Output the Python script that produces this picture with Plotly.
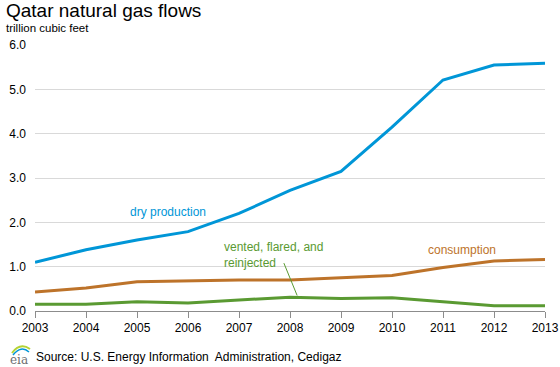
import plotly.graph_objects as go

years = list(range(2003, 2014))
dry_production = [1.10, 1.38, 1.60, 1.79, 2.20, 2.72, 3.15, 4.15, 5.21, 5.55, 5.59]
consumption = [0.43, 0.52, 0.66, 0.68, 0.70, 0.70, 0.75, 0.80, 0.98, 1.13, 1.16]
vented = [0.15, 0.15, 0.21, 0.18, 0.25, 0.31, 0.28, 0.30, 0.21, 0.12, 0.12]
y_ticks = [0, 1, 2, 3, 4, 5, 6]
y_tick_labels = ["0.0", "1.0", "2.0", "3.0", "4.0", "5.0", "6.0"]

BLUE = "#0096d7"
ORANGE = "#bd732a"
GREEN = "#5a9a32"
FONT = "Liberation Sans, Arial, sans-serif"

fig = go.Figure()
fig.add_trace(go.Scatter(x=years, y=vented, mode="lines", line=dict(color=GREEN, width=3)))
fig.add_trace(go.Scatter(x=years, y=consumption, mode="lines", line=dict(color=ORANGE, width=3)))
fig.add_trace(go.Scatter(x=years, y=dry_production, mode="lines", line=dict(color=BLUE, width=3)))

fig.update_layout(
    width=560, height=367,
    margin=dict(l=35, r=15, t=45, b=56, autoexpand=False),
    paper_bgcolor="white", plot_bgcolor="white",
    showlegend=False,
    font=dict(family=FONT, size=12, color="#000000"),
    xaxis=dict(range=[2003, 2013], tickmode="array", tickvals=years,
               ticktext=[str(y) for y in years], showgrid=False, automargin=False,
               showline=True, linecolor="#8c8c8c", linewidth=1,
               ticks="outside", ticklen=6, tickcolor="#8c8c8c",
               tickfont=dict(size=12, color="#000"), zeroline=False, fixedrange=True),
    yaxis=dict(range=[0, 6], tickmode="array", tickvals=y_ticks, ticktext=y_tick_labels,
               showgrid=True, gridcolor="#d9d9d9", gridwidth=1, zeroline=False,
               showline=False, ticks="", tickfont=dict(size=12, color="#000"),
               automargin=False, ticklabelstandoff=8, fixedrange=True),
)

fig.add_annotation(text="Qatar natural gas flows", xref="paper", yref="paper",
                   x=-31/510, y=1 + 34/266, xanchor="left", yanchor="middle",
                   showarrow=False, font=dict(size=19, family=FONT, color="#000"))
fig.add_annotation(text="trillion cubic feet", xref="paper", yref="paper",
                   x=-31/510, y=1 + 17/266, xanchor="left", yanchor="middle",
                   showarrow=False, font=dict(size=11.5, family=FONT, color="#000"))

fig.add_annotation(text="dry production", x=2005.6, y=2.23, xref="x", yref="y",
                   showarrow=False, font=dict(size=12, color=BLUE, family=FONT))
fig.add_annotation(text="consumption", x=2011.37, y=1.38, xref="x", yref="y",
                   showarrow=False, font=dict(size=12, color=ORANGE, family=FONT))
fig.add_annotation(text="vented, flared, and<br>reinjected", x=2006.66, y=1.26,
                   xref="x", yref="y", xanchor="left", yanchor="middle", align="left",
                   showarrow=False, font=dict(size=12, color=GREEN, family=FONT))
fig.add_shape(type="line", x0=2007.88, y0=1.08, x1=2008.14, y1=0.35, xref="x", yref="y",
              line=dict(color=GREEN, width=1))

fig.add_annotation(text="Source: U.S. Energy Information  Administration, Cedigaz",
                   xref="paper", yref="paper", x=-1/510, y=-46/266,
                   xanchor="left", yanchor="middle", showarrow=False,
                   font=dict(size=12, family=FONT, color="#000"))
fig.add_annotation(text="eia", xref="paper", yref="paper", x=-27/510, y=-49/266,
                   xanchor="left", yanchor="middle", showarrow=False,
                   font=dict(size=12, family="DejaVu Serif, serif", color="#6d6e71"))
fig.add_shape(type="path", xref="paper", yref="paper",
              path=f"M {-23/510} {-42/266} Q {-15/510} {-31/266} {-5/510} {-38/266}",
              line=dict(color="#b5d334", width=2))
fig.add_shape(type="path", xref="paper", yref="paper",
              path=f"M {-22/510} {-44/266} Q {-14/510} {-34/266} {-6/510} {-41/266}",
              line=dict(color="#0096d7", width=1.5))

fig.write_html("out.html", config={"displayModeBar": False},
               post_script="document.body.style.margin='0';document.body.style.overflow='hidden';")
